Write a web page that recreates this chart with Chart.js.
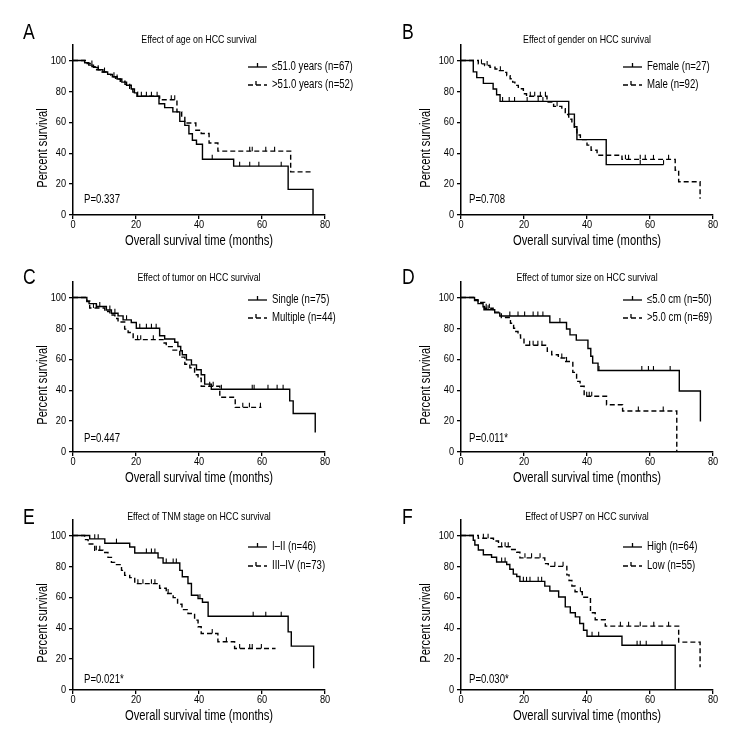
<!DOCTYPE html>
<html>
<head>
<meta charset="utf-8">
<script src="https://cdn.jsdelivr.net/npm/chart.js@4.4.1/dist/chart.umd.min.js"></script>
<style>
    html, body { margin: 0; padding: 0; background: #fff; }
    #wrap { position: relative; width: 756px; height: 756px; }
    #wrap canvas { position: absolute; left: 0; top: 0; }
</style>
</head>
<body>
<div id="wrap"></div>
<script>
// Axis ticks
const xTicks = [0, 20, 40, 60, 80];
const yTicks = [0, 20, 40, 60, 80, 100];
const xTitle = "Overall survival time (months)";
const yTitle = "Percent survival";

// A - age
const ageLow = [[0,100],[3.7,98.5],[5,97],[6.5,95.5],[8,94],[9.5,92.5],[11,91],[12.5,89.5],[14,88],[15.5,86],[17,84],[18.5,81.5],[19.5,79],[20.3,76.8],[27.3,72],[29.1,69.5],[31.7,66.7],[33.9,60.6],[35.5,58],[36.8,52.6],[37.9,48.4],[39.2,45.8],[41.1,36.1],[51,31.6],[68.3,16.6],[76.2,0]];
const ageLowCens = [6, 10, 13, 21.7, 23.3, 24.9, 26.7, 44.2, 52.9, 56.1, 59, 66.1];
const ageHigh = [[0,100],[4.5,98],[6,96],[7.5,94],[9,92.5],[10.5,91],[12,89.5],[13.5,88],[15,86.5],[16.5,84.5],[18,82],[19,79.5],[20.5,76.8],[27.5,74.6],[33,66.7],[34.5,64],[35.5,59.5],[39,54.8],[40.7,52.7],[43.2,46.6],[46,41.3],[69.1,27.9],[76.2,27.9]];
const ageHighCens = [8, 14, 31.2, 32.3, 56.1, 56.9, 61.2, 64];

// B - gender
const female = [[0,100],[3.9,92.6],[5,88.9],[7.1,85.2],[10.2,81.5],[11.3,77.8],[12.4,73.5],[34.2,65.3],[36,57.1],[36.8,48.8],[46.1,32.6],[64.3,32.6]];
const femaleCens = [13.2, 15.3, 17, 21, 24.5, 26, 56.9, 64.3];
const male = [[0,100],[5.5,97.8],[7.5,96.7],[9.2,95.6],[10.8,94.5],[11.8,93.4],[13.4,92.3],[14.5,90.2],[15.6,88.2],[16.4,86],[17.1,83.9],[18.2,81.7],[19.8,78.5],[20.8,76.8],[27.3,73.1],[29.4,70.3],[32,68.8],[33.1,65],[34.2,62],[35.2,59.1],[36,55.3],[36.8,51.8],[37.9,48.8],[40,45.2],[41.3,41.9],[43.2,38.7],[51.1,36],[68,29],[69.1,21.5],[75.9,10.5]];
const maleCens = [6.5, 8.3, 12.5, 22, 23.4, 25.2, 26.8, 30.5, 52.2, 53.2, 56.9, 58.5, 61.1, 65.9];

// C - tumor number
const single = [[0,100],[4.4,97.3],[5.1,96],[7.4,94.1],[10.6,91.9],[12.2,89.8],[14.3,88.1],[15.9,85.5],[18.5,83.8],[20.1,80.1],[27.5,75.2],[29.1,73.1],[32.3,71],[33.3,68.3],[34.2,65.5],[34.7,62.9],[36,59.6],[37.6,56.4],[39.2,53.2],[40.7,50],[41.8,43.9],[43.9,40.6],[68.8,33.1],[69.9,24.9],[76.9,12.6]];
const singleCens = [8.5, 11.7, 13.3, 17, 21.2, 23.3, 24.9, 26.4, 47.1, 56.9, 57.5, 61.9, 64.8, 66.7];
const multiple = [[0,100],[4.4,97.7],[5.3,93.2],[10.1,90.9],[11.7,88.6],[13.3,86.4],[14.3,84.1],[16.4,79.5],[17.5,77.3],[19.1,72.7],[28.6,70.5],[29.6,68.2],[31.5,65.9],[33.9,61.4],[35.5,56.8],[37.1,54.5],[38.6,50],[39.7,47.7],[40.7,42.5],[46.6,35.4],[51.5,28.9],[59.8,28.9]];
const multipleCens = [6.5, 7.5, 20.5, 21.5, 25.5, 43.4, 44.5, 53.9, 56, 59.5];

// D - tumor size
const sizeSmall = [[0,100],[4.3,98],[5.4,96],[7,94],[7.3,92],[10.7,90],[12.3,88],[28.2,83.8],[33.5,79.6],[34.6,75.8],[36.6,72.4],[40.3,67],[41.2,62],[41.8,57.5],[43.5,52.7],[69.3,39.5],[76,19.8]];
const sizeSmallCens = [8.6, 15.5, 18.1, 20.2, 22.9, 24.4, 26, 31.4, 43.8, 57.4, 59.5, 61.1, 66.4];
const sizeLarge = [[0,100],[4.3,98.5],[5.4,96.8],[7.5,93],[10.2,90.5],[12.8,87],[15.7,83.3],[16.7,80.1],[17.4,78],[18.1,75.8],[18.9,73.7],[20,69.1],[27.4,65.1],[28.8,62.9],[30.9,60.8],[33,58.6],[35.5,51.5],[36.7,45.7],[37.8,42.5],[39.1,36.1],[46.2,30.6],[51.3,26.5],[68.5,0]];
const sizeLargeCens = [8, 9, 21.8, 22.9, 24.4, 25.7, 32, 33.5, 39.9, 40.7, 41.5, 56.3, 64.2];

// E - TNM stage
const stageEarly = [[0,100],[5.3,97.8],[10.1,95],[18,92.5],[19.6,88.6],[27,85.5],[28.6,82.2],[33.9,77.4],[34.7,73.3],[36.5,68.9],[37.6,61.3],[39.7,59.1],[41.1,56.8],[42.9,47.7],[68.3,37.6],[69.3,28.4],[76.4,14]];
const stageEarlyCens = [6.9, 8, 13.8, 23.3, 24.9, 26, 29.6, 31.8, 32.8, 40.3, 57.2, 61.2, 66.1];
const stageLate = [[0,100],[3.7,97.3],[4.8,94.5],[6.9,90.4],[9.5,89],[11.1,85.8],[12.2,82.6],[13.2,81.1],[15.4,77.4],[16.4,74.2],[18,72.7],[19.6,68.8],[27.5,65.8],[29.6,62.4],[31.8,59.8],[33.2,55.5],[34.6,52],[36.5,49.5],[38.6,45.2],[39.7,40.9],[40.7,36.6],[46,31.2],[51.3,26.9],[64.3,26.9]];
const stageLateCens = [7.4, 8.5, 20.6, 22.2, 24.9, 26, 30.2, 44.2, 48.7, 52.9, 56.1, 56.9, 59.8];

// F - USP7
const uspHigh = [[0,100],[3.9,96.9],[4.4,93.8],[5.5,90.6],[7.1,87.5],[9.7,85.9],[11.3,82.8],[14.5,81.2],[15.5,78.1],[16.6,75],[17.7,73.4],[18.7,70.3],[26.6,67.2],[28.2,64.1],[31,60.2],[33.1,53.8],[34.7,50],[36.3,47.3],[37.7,43],[38.9,38.7],[40,34.8],[51.1,29],[68,0]];
const uspHighCens = [12.9, 14, 19.8, 20.8, 21.9, 24.5, 25.6, 41.6, 43.7, 55.9, 56.9, 58.8, 63.8];
const uspLow = [[0,100],[5.5,98.2],[10.3,96.4],[11.9,92.7],[15.6,90.9],[17.7,89.1],[18.7,85.5],[26.6,81.8],[27.7,80],[33.6,74.5],[34.3,70.9],[35.2,67.3],[36.2,63.6],[38.5,60],[41.1,50],[42.6,45.5],[45.8,41.3],[69.1,31],[75.9,14.8]];
const uspLowCens = [7.1, 8.6, 12.9, 14, 15, 20.3, 22.4, 25.1, 29.8, 32.4, 37.9, 50.6, 53.2, 56.9, 61.2, 65.9];

// no narrow font installed: Liberation Sans squeezed horizontally
const FONT = '"Liberation Sans", Arial, sans-serif';
const SQUEEZE = 0.8;

const panels = [
    { letter: "A", title: "Effect of age on HCC survival", labels: ["\u226451.0 years (n=67)", ">51.0 years (n=52)"], p: "P=0.337", curves: [ageLow, ageHigh], cens: [ageLowCens, ageHighCens] },
    { letter: "B", title: "Effect of gender on HCC survival", labels: ["Female (n=27)", "Male (n=92)"], p: "P=0.708", curves: [female, male], cens: [femaleCens, maleCens] },
    { letter: "C", title: "Effect of tumor on HCC survival", labels: ["Single (n=75)", "Multiple (n=44)"], p: "P=0.447", curves: [single, multiple], cens: [singleCens, multipleCens] },
    { letter: "D", title: "Effect of tumor size on HCC survival", labels: ["\u22645.0 cm (n=50)", ">5.0 cm (n=69)"], p: "P=0.011*", curves: [sizeSmall, sizeLarge], cens: [sizeSmallCens, sizeLargeCens] },
    { letter: "E", title: "Effect of TNM stage on HCC survival", labels: ["I\u2013II (n=46)", "III\u2013IV (n=73)"], p: "P=0.021*", curves: [stageEarly, stageLate], cens: [stageEarlyCens, stageLateCens] },
    { letter: "F", title: "Effect of USP7 on HCC survival", labels: ["High (n=64)", "Low (n=55)"], p: "P=0.030*", curves: [uspHigh, uspLow], cens: [uspHighCens, uspLowCens] }
];

// page layout of the 2x3 grid
const cols = [
    { left: 73, right: 325, letterX: 23, legendX: 248, yTitleX: 43, pX: 84 },
    { left: 461, right: 713, letterX: 402, legendX: 623, yTitleX: 426, pX: 469 }
];
const rows = [
    { top: 45, bottom: 215, letterY: 33, titleY: 40, legendY: [67, 85], pY: 200 },
    { top: 282, bottom: 452, letterY: 278, titleY: 278, legendY: [300, 318], pY: 439 },
    { top: 520, bottom: 690, letterY: 518, titleY: 517, legendY: [547, 566], pY: 680 }
];

function survivalAt(curve, t) {
    let s = 100;
    for (const [x, y] of curve) {
        if (x <= t) s = y; else break;
    }
    return s;
}

function narrowText(ctx, str, x, y, align, angle) {
    ctx.save();
    ctx.translate(x, y);
    if (angle) ctx.rotate(angle);
    ctx.scale(SQUEEZE, 1);
    ctx.textAlign = align;
    ctx.fillText(str, 0, 0);
    ctx.restore();
}

const panelText = {
    id: "panelText",
    afterDraw(chart, args, o) {
        const ctx = chart.ctx, ca = chart.chartArea;
        const midX = (ca.left + ca.right) / 2;
        ctx.save();
        ctx.fillStyle = "#000";
        ctx.strokeStyle = "#000";
        ctx.textBaseline = "middle";

        // tick labels at the library's tick positions
        ctx.font = `11.5px ${FONT}`;
        chart.scales.x.ticks.forEach(t => {
            narrowText(ctx, String(t.value), chart.scales.x.getPixelForValue(t.value), ca.bottom + 10, "center");
        });
        chart.scales.y.ticks.forEach(t => {
            narrowText(ctx, String(t.value), ca.left - 7, chart.scales.y.getPixelForValue(t.value), "right");
        });

        ctx.font = `22px ${FONT}`;
        narrowText(ctx, o.letter, o.letterX, o.letterY, "left");

        ctx.font = `11px ${FONT}`;
        narrowText(ctx, o.title, midX, o.titleY, "center");

        ctx.font = `14px ${FONT}`;
        narrowText(ctx, xTitle, midX, ca.bottom + 26, "center");
        narrowText(ctx, yTitle, o.yTitleX, ca.top + 103, "center", -Math.PI / 2);

        // legend with censor mark
        ctx.font = `12px ${FONT}`;
        ctx.lineWidth = 1.3;
        o.labels.forEach((lab, k) => {
            const x = o.legendX, y = o.legendY[k];
            ctx.setLineDash(k ? [5, 3] : []);
            ctx.beginPath(); ctx.moveTo(x, y); ctx.lineTo(x + 19, y); ctx.stroke();
            ctx.setLineDash([]);
            const tx = k ? x + 8 : x + 9.5;
            ctx.beginPath(); ctx.moveTo(tx, y); ctx.lineTo(tx, y - 4); ctx.stroke();
            narrowText(ctx, lab, x + 24, y, "left");
        });

        ctx.font = `12px ${FONT}`;
        narrowText(ctx, o.p, o.pX, o.pY, "left");
        ctx.restore();
    }
};

const wrap = document.getElementById("wrap");

panels.forEach((p, i) => {
    const c = cols[i % 2], r = rows[Math.floor(i / 2)];
    const canvas = document.createElement("canvas");
    canvas.width = 756;
    canvas.height = 756;
    wrap.appendChild(canvas);

    const datasets = [];
    p.curves.forEach((curve, k) => {
        datasets.push({
            data: curve,
            stepped: true,
            borderColor: "#000",
            borderWidth: 1.4,
            borderDash: k ? [5, 3] : [],
            pointRadius: 0,
            fill: false,
            clip: 5
        });
        datasets.push({
            data: p.cens[k].map(t => [t, survivalAt(curve, t)]),
            showLine: false,
            pointStyle: "dash",
            pointRotation: -90,
            pointRadius: 4.5,
            pointBorderColor: "#000",
            pointBorderWidth: 1.1,
            clip: 5
        });
    });

    new Chart(canvas, {
        type: "line",
        data: { datasets },
        plugins: [panelText],
        options: {
            responsive: false,
            animation: false,
            layout: { padding: { left: 0, top: r.top, right: 756 - c.right, bottom: 0 } },
            scales: {
                x: {
                    type: "linear",
                    min: 0,
                    max: 80,
                    afterBuildTicks: s => { s.ticks = xTicks.map(v => ({ value: v })); },
                    afterFit: s => { s.height = 756 - r.bottom; },
                    ticks: { display: false },
                    grid: { drawOnChartArea: false, tickLength: 4, color: "#000", lineWidth: 1.3 },
                    border: { color: "#000", width: 1.5 }
                },
                y: {
                    min: 0,
                    max: 110,
                    afterBuildTicks: s => { s.ticks = yTicks.map(v => ({ value: v })); },
                    afterFit: s => { s.width = c.left; },
                    ticks: { display: false },
                    grid: { drawOnChartArea: false, tickLength: 4, color: "#000", lineWidth: 1.3 },
                    border: { color: "#000", width: 1.5 }
                }
            },
            plugins: {
                legend: { display: false },
                tooltip: { enabled: false },
                title: { display: false },
                panelText: Object.assign({ letter: p.letter, title: p.title, labels: p.labels, p: p.p }, c, r)
            }
        }
    });
});
</script>
</body>
</html>
